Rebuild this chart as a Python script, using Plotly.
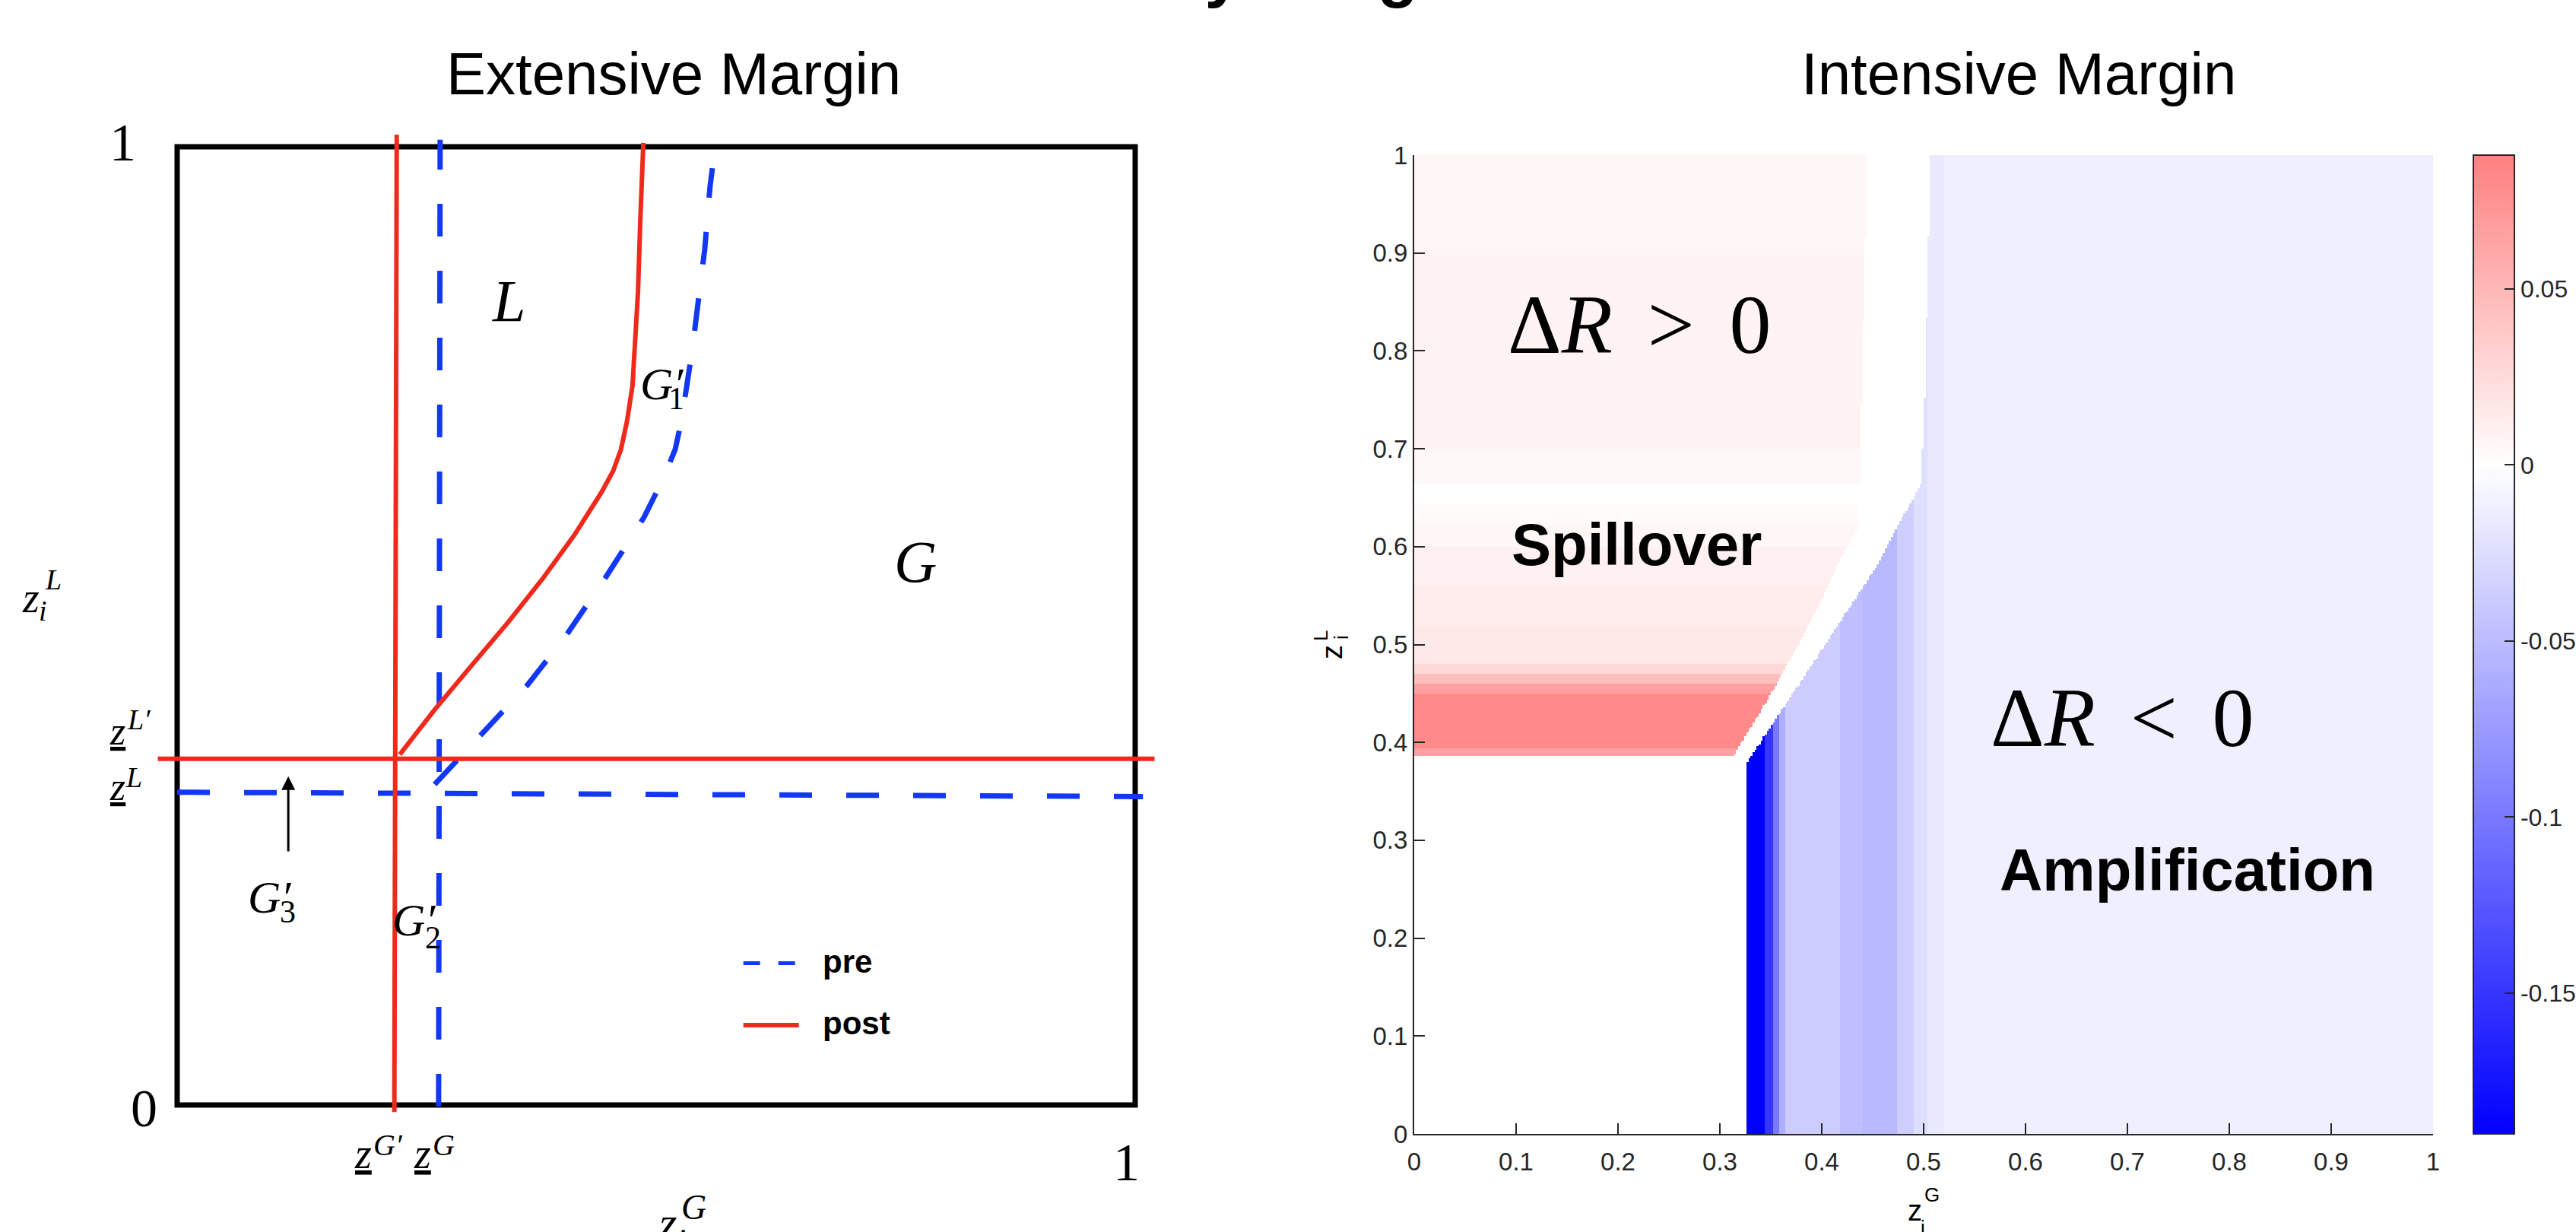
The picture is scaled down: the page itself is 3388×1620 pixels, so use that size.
import numpy as np
import plotly.graph_objects as go

W, H = 3388, 1620
SERIF = "Liberation Serif, Times New Roman, serif"
SANS = "Liberation Sans, Arial, Helvetica, sans-serif"
RED = "#EF2A1C"
BLUE = "#1238F5"
AX = "#262626"

# ---------------- Left panel: Extensive Margin (lines) ----------------
pre_vert_zg = [0.2729, 0.2745]
pre_vert_zl = [-0.0015, 1.0074]
pre_horiz_zg = [0.0, 1.0081]
pre_horiz_zl = [0.3264, 0.3219]
pre_curve_zg = [0.2688, 0.2931, 0.3174, 0.3660, 0.4065, 0.4470, 0.4874, 0.5077, 0.5198,
                0.5263, 0.5320, 0.5377, 0.5441, 0.5506, 0.5563, 0.5587]
pre_curve_zl = [0.3346, 0.3606, 0.3866, 0.4387, 0.4907, 0.5502, 0.6134, 0.6543, 0.6840,
                0.7138, 0.7509, 0.7881, 0.8401, 0.8922, 0.9591, 0.9777]

post_vert_zg = [0.2267, 0.2292]
post_vert_zl = [-0.0074, 1.0126]
post_horiz_zg = [-0.0202, 1.0202]
post_horiz_zl = [0.3613, 0.3613]
post_curve_zg = [0.2324, 0.2688, 0.3093, 0.3457, 0.3822, 0.4146, 0.4429, 0.4551, 0.4632,
                 0.4696, 0.4753, 0.4777, 0.4810, 0.4834, 0.4866]
post_curve_zl = [0.3658, 0.4126, 0.4610, 0.5041, 0.5502, 0.5948, 0.6394, 0.6617, 0.6840,
                 0.7138, 0.7509, 0.7881, 0.8476, 0.9219, 1.0040]

arrow_g3_zg = 0.116
arrow_g3_tail_zl = 0.2635
arrow_g3_head_zl = 0.343

# ---------------- Right panel: Intensive Margin (ΔR heatmap) ----------------
# red (ΔR > 0) region: values vary with z_i^L, band lower edges and values
red_band_lo = [0.387, 0.395, 0.450, 0.460, 0.470, 0.480, 0.52, 0.56, 0.60, 0.625, 0.645, 0.664, 0.70, 0.905]
red_band_val = [0.065, 0.081, 0.066, 0.045, 0.027, 0.016, 0.013, 0.010, 0.006, 0.003, 0.000, 0.005, 0.008, 0.006]
# right border of red region (z_i^L -> z_i^G)
red_edge_zl = [0.387, 0.46, 0.533, 0.591, 0.62, 0.66, 1.0]
red_edge_zg = [0.314, 0.356, 0.394, 0.420, 0.436, 0.437, 0.445]

# blue (ΔR < 0) region: values vary with z_i^G, band lower edges and values
blue_band_lo = [0.327, 0.345, 0.352, 0.358, 0.365, 0.418, 0.440, 0.474, 0.490, 0.505, 0.520]
blue_band_val = [-0.190, -0.150, -0.100, -0.060, -0.038, -0.048, -0.053, -0.036, -0.024, -0.016, -0.012]
# left border of blue region (z_i^L -> z_i^G)
blue_edge_zl = [0.0, 0.38, 0.46, 0.577, 0.664, 0.70, 0.752, 1.0]
blue_edge_zg = [0.327, 0.327, 0.378, 0.452, 0.497, 0.499, 0.501, 0.507]

z_min, z_max = -0.19, 0.088
axis_ticks = [0, 0.1, 0.2, 0.3, 0.4, 0.5, 0.6, 0.7, 0.8, 0.9, 1]
axis_tick_text = ["0", "0.1", "0.2", "0.3", "0.4", "0.5", "0.6", "0.7", "0.8", "0.9", "1"]
cbar_ticks = [0.05, 0, -0.05, -0.1, -0.15]
cbar_tick_text = ["0.05", "0", "-0.05", "-0.1", "-0.15"]

# build the heatmap grid from the band tables
N = 500
grid = (np.arange(N) + 0.5) / N
Z = np.full((N, N), np.nan)
red_edge = np.interp(grid, red_edge_zl, red_edge_zg)
blue_edge = np.interp(grid, blue_edge_zl, blue_edge_zg)
red_idx = np.searchsorted(red_band_lo, grid, side="right") - 1
blue_idx = np.searchsorted(blue_band_lo, grid, side="right") - 1
red_vals = np.array(red_band_val)
blue_vals = np.array(blue_band_val)
for i, zl in enumerate(grid):
    if red_idx[i] >= 0:
        m = grid < red_edge[i]
        Z[i, m] = red_vals[red_idx[i]]
    mb = (grid >= blue_edge[i]) & (blue_idx >= 0)
    Z[i, mb] = blue_vals[blue_idx[mb]]


def joined(*segs):
    xs, ys = [], []
    for sx, sy in segs:
        if xs:
            xs.append(None)
            ys.append(None)
        xs += list(sx)
        ys += list(sy)
    return xs, ys


fig = go.Figure()

pre_x, pre_y = joined((pre_vert_zg, pre_vert_zl), (pre_horiz_zg, pre_horiz_zl), (pre_curve_zg, pre_curve_zl))
post_x, post_y = joined((post_vert_zg, post_vert_zl), (post_horiz_zg, post_horiz_zl), (post_curve_zg, post_curve_zl))

fig.add_trace(go.Scatter(x=pre_x, y=pre_y, mode="lines", name="pre", connectgaps=False,
                         line=dict(color=BLUE, width=7, dash="43px,45px"),
                         xaxis="x", yaxis="y", showlegend=False, hoverinfo="skip"))
fig.add_trace(go.Scatter(x=post_x, y=post_y, mode="lines", name="post", connectgaps=False,
                         line=dict(color=RED, width=6),
                         xaxis="x", yaxis="y", showlegend=False, hoverinfo="skip"))

fig.add_trace(go.Heatmap(
    x=grid, y=grid, z=Z, zmin=z_min, zmax=z_max, xaxis="x2", yaxis="y2",
    colorscale=[[0, "#0000FF"], [-z_min / (z_max - z_min), "#FFFFFF"], [1, "#FF8080"]],
    hoverinfo="skip",
    colorbar=dict(x=3253 / W, xanchor="left", xpad=0, y=1 - 847.5 / H, yanchor="middle", ypad=0,
                  len=1287, lenmode="pixels", thickness=54, thicknessmode="pixels",
                  outlinewidth=2, outlinecolor=AX, ticks="inside", ticklen=14, tickwidth=2,
                  tickcolor=AX, tickvals=cbar_ticks, ticktext=cbar_tick_text,
                  tickfont=dict(family=SANS, size=32, color=AX)),
))


def px(x):
    return x / W


def py(y):
    return 1 - y / H


anns = []


def A(text, x, y, size, family=SERIF, xref="x", yref="y", **kw):
    d = dict(text=text, x=x, y=y, xref=xref, yref=yref, showarrow=False,
             font=dict(family=family, size=size, color="black"),
             xanchor=kw.pop("xanchor", "center"), yanchor=kw.pop("yanchor", "middle"))
    d.update(kw)
    anns.append(d)


def P(text, xp, yp, size, family=SERIF, **kw):
    A(text, px(xp), py(yp), size, family=family, xref="paper", yref="paper", **kw)


# titles
P("<b>Effects by Margin</b>", 1215, 13, 87, family=SANS, xanchor="left", yanchor="bottom")
P("Extensive Margin", 886, 97, 78, family=SANS)
P("Intensive Margin", 2655, 97, 78, family=SANS)

# left panel tick-like labels
P("1", 161, 187, 70)
P("0", 189, 1457, 70)
P("1", 1481, 1528, 70)
P("<u><i>z</i></u>", 154, 962, 52)
P("<i>L′</i>", 182, 946, 38)
P("<u><i>z</i></u>", 154, 1034, 52)
P("<i>L</i>", 176, 1022, 38)
P("<u><i>z</i></u>", 477, 1517, 56)
P("<i>G′</i>", 510, 1505, 40)
P("<u><i>z</i></u>", 555, 1517, 56)
P("<i>G</i>", 583, 1505, 40)
# left axis titles
P("<i>z</i>", 40, 786, 56)
P("<i>L</i>", 70, 762, 38)
P("<i>i</i>", 56, 803, 38)
P("<i>z</i>", 878, 1608, 60)
P("<i>G</i>", 912, 1587, 46)
P("<i>i</i>", 896, 1632, 44)

# region labels inside left panel
A("<i>L</i>", 0.346, 0.839, 78)
A("<i>G</i>", 0.771, 0.567, 78)
A("<i>G′</i>", 0.5056, 0.7524, 60)
A("1", 0.5214, 0.7373, 42)
A("<i>G′</i>", 0.2476, 0.1929, 60)
A("2", 0.2667, 0.1746, 42)
A("<i>G′</i>", 0.0968, 0.2167, 60)
A("3", 0.1151, 0.2016, 42)
anns.append(dict(x=arrow_g3_zg, y=arrow_g3_head_zl, ax=arrow_g3_zg, ay=arrow_g3_tail_zl,
                 xref="x", yref="y", axref="x", ayref="y", text="", showarrow=True,
                 arrowhead=2, arrowsize=1.2, arrowwidth=3, arrowcolor="black"))
# legend text
A("<b>pre</b>", 0.672, 0.150, 42, family=SANS, xanchor="left")
A("<b>post</b>", 0.672, 0.085, 42, family=SANS, xanchor="left")

# right panel labels
A("Δ<i>R</i>\u00a0\u2006&gt;\u00a0\u20060", 0.221, 0.827, 110, xref="x2", yref="y2")
A("Δ<i>R</i>\u00a0\u2006&lt;\u00a0\u20060", 0.695, 0.425, 110, xref="x2", yref="y2")
A("<b>Spillover</b>", 0.218, 0.602, 78, family=SANS, xref="x2", yref="y2")
A("<b>Amplification</b>", 0.759, 0.270, 78, family=SANS, xref="x2", yref="y2")
P("z", 1752, 858, 38, family=SANS, textangle=-90)
P("L", 1737, 836, 26, family=SANS, textangle=-90)
P("i", 1764, 838, 26, family=SANS, textangle=-90)
P("z", 2518, 1592, 38, family=SANS)
P("G", 2541, 1571, 26, family=SANS)
P("i", 2529, 1614, 26, family=SANS)

shapes = [
    dict(type="rect", xref="x", yref="y", x0=0, y0=0, x1=1, y1=1,
         line=dict(color="black", width=7), layer="below"),
    # legend samples
    dict(type="line", xref="x", yref="y", x0=0.591, x1=0.645, y0=0.148, y1=0.148,
         line=dict(color=BLUE, width=5, dash="22px,24px")),
    dict(type="line", xref="x", yref="y", x0=0.591, x1=0.649, y0=0.0833, y1=0.0833,
         line=dict(color=RED, width=6)),
]

fig.update_layout(
    width=W, height=H, autosize=False,
    margin=dict(l=0, r=0, t=0, b=0, pad=0, autoexpand=False),
    paper_bgcolor="white", plot_bgcolor="white",
    showlegend=False,
    xaxis=dict(domain=[157.4 / W, (157.4 + 1411.2) / W], range=[-0.06, 1.06], visible=False),
    yaxis=dict(domain=[py(1528.6), py(117.4)], range=[-0.06, 1.06], visible=False),
    xaxis2=dict(domain=[1860 / W, 3200 / W], range=[0, 1], anchor="y2",
                showline=True, linecolor=AX, linewidth=2, ticks="inside", ticklen=14,
                tickwidth=2, tickcolor=AX, tickvals=axis_ticks, ticktext=axis_tick_text,
                ticklabelstandoff=6,
                tickfont=dict(family=SANS, size=33, color=AX), showgrid=False, zeroline=False),
    yaxis2=dict(domain=[py(1491), py(204)], range=[0, 1], anchor="x2",
                showline=True, linecolor=AX, linewidth=2, ticks="inside", ticklen=14,
                tickwidth=2, tickcolor=AX, tickvals=axis_ticks, ticktext=axis_tick_text,
                tickfont=dict(family=SANS, size=33, color=AX), showgrid=False, zeroline=False),
    annotations=anns,
    shapes=shapes,
)

fig.write_html("out.html", config={"displayModeBar": False},
               post_script="document.body.style.margin='0';document.body.style.overflow='hidden';")
